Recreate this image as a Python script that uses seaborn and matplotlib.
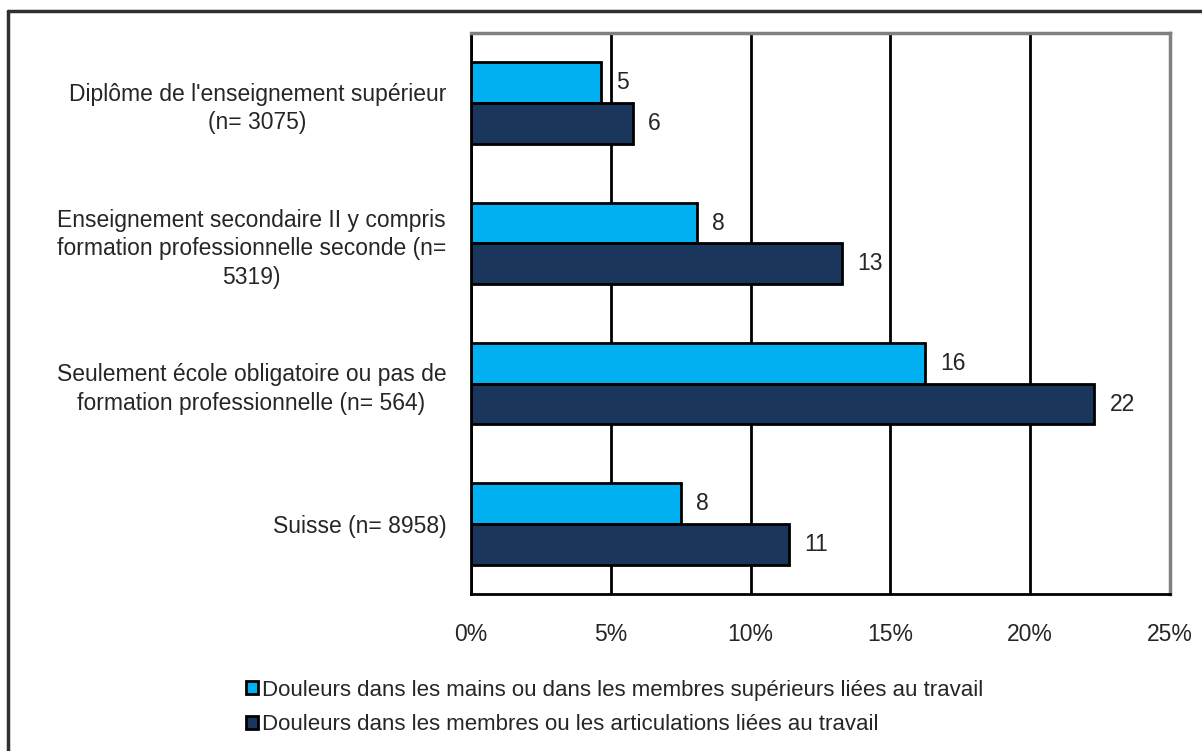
import pandas as pd
import seaborn as sns
import matplotlib.pyplot as plt
from matplotlib.lines import Line2D

categories = [
    "Diplôme de l'enseignement supérieur\n(n= 3075)",
    "Enseignement secondaire II y compris\nformation professionnelle seconde (n=\n5319)",
    "Seulement école obligatoire ou pas de\nformation professionnelle (n= 564)",
    "Suisse (n= 8958)",
]
series = [
    "Douleurs dans les mains ou dans les membres supérieurs liées au travail",
    "Douleurs dans les membres ou les articulations liées au travail",
]
mains = [4.64, 8.07, 16.25, 7.5]
membres = [5.79, 13.29, 22.3, 11.36]
labels_mains = ["5", "8", "16", "8"]
labels_membres = ["6", "13", "22", "11"]
xticks = [0, 5, 10, 15, 20, 25]

df = pd.DataFrame({
    "cat": categories * 2,
    "serie": [series[0]] * 4 + [series[1]] * 4,
    "val": mains + membres,
})

sns.set_style("white")
plt.rcParams["font.family"] = ["Liberation Sans", "DejaVu Sans"]

fig = plt.figure(figsize=(12.02, 7.51), dpi=100)
ax = fig.add_axes([0.392, 0.209, 0.581, 0.747])

sns.barplot(data=df, y="cat", x="val", hue="serie", orient="h", ax=ax,
            palette=["#00B0F0", "#1B365D"], width=0.58, saturation=1,
            edgecolor="black", linewidth=2, errorbar=None)

for cont, labs in zip(ax.containers, [labels_mains, labels_membres]):
    ax.bar_label(cont, labels=labs, padding=11, fontsize=16.5)

ax.set_xlim(0, 25)
ax.set_ylim(3.5, -0.5)
ax.set_xticks(xticks)
ax.set_xticklabels([f"{t}%" for t in xticks], fontsize=16.5)
ax.tick_params(axis="x", length=5, width=1.5, color="black", direction="out", pad=16)
ax.set_yticks(range(len(categories)))
ax.set_yticklabels(categories, fontsize=16.5)
ax.tick_params(axis="y", which="major", length=0, pad=18)
for lab in ax.get_yticklabels():
    lab.set_multialignment("center")
    lab.set_linespacing(1.3)
ax.set_yticks([-0.5, 0.5, 1.5, 2.5, 3.5], minor=True)
ax.tick_params(axis="y", which="minor", length=7, width=1.5, color="black", direction="out")
ax.set_xlabel("")
ax.set_ylabel("")

ax.set_axisbelow(True)
ax.grid(axis="x", color="black", linewidth=2)
ax.grid(axis="y", visible=False)
for s in ["left", "bottom"]:
    ax.spines[s].set_color("black")
    ax.spines[s].set_linewidth(2)
for s in ["top", "right"]:
    ax.spines[s].set_color("#808080")
    ax.spines[s].set_linewidth(2.5)

handles, labels = ax.get_legend_handles_labels()
ax.get_legend().remove()
fig.legend(handles, labels, loc="upper left", bbox_to_anchor=(0.197, 0.107),
           frameon=False, fontsize=16, handlelength=0.55, handleheight=0.55,
           handletextpad=0.2, labelspacing=0.62, borderaxespad=0)

# outer frame (cut off on right and bottom)
fig.add_artist(Line2D([0.0065, 0.0065], [0, 0.9855], color="#303030", lw=2.5))
fig.add_artist(Line2D([0.0065, 1], [0.9855, 0.9855], color="#303030", lw=2.5))

fig.savefig("out.png", dpi=100)
